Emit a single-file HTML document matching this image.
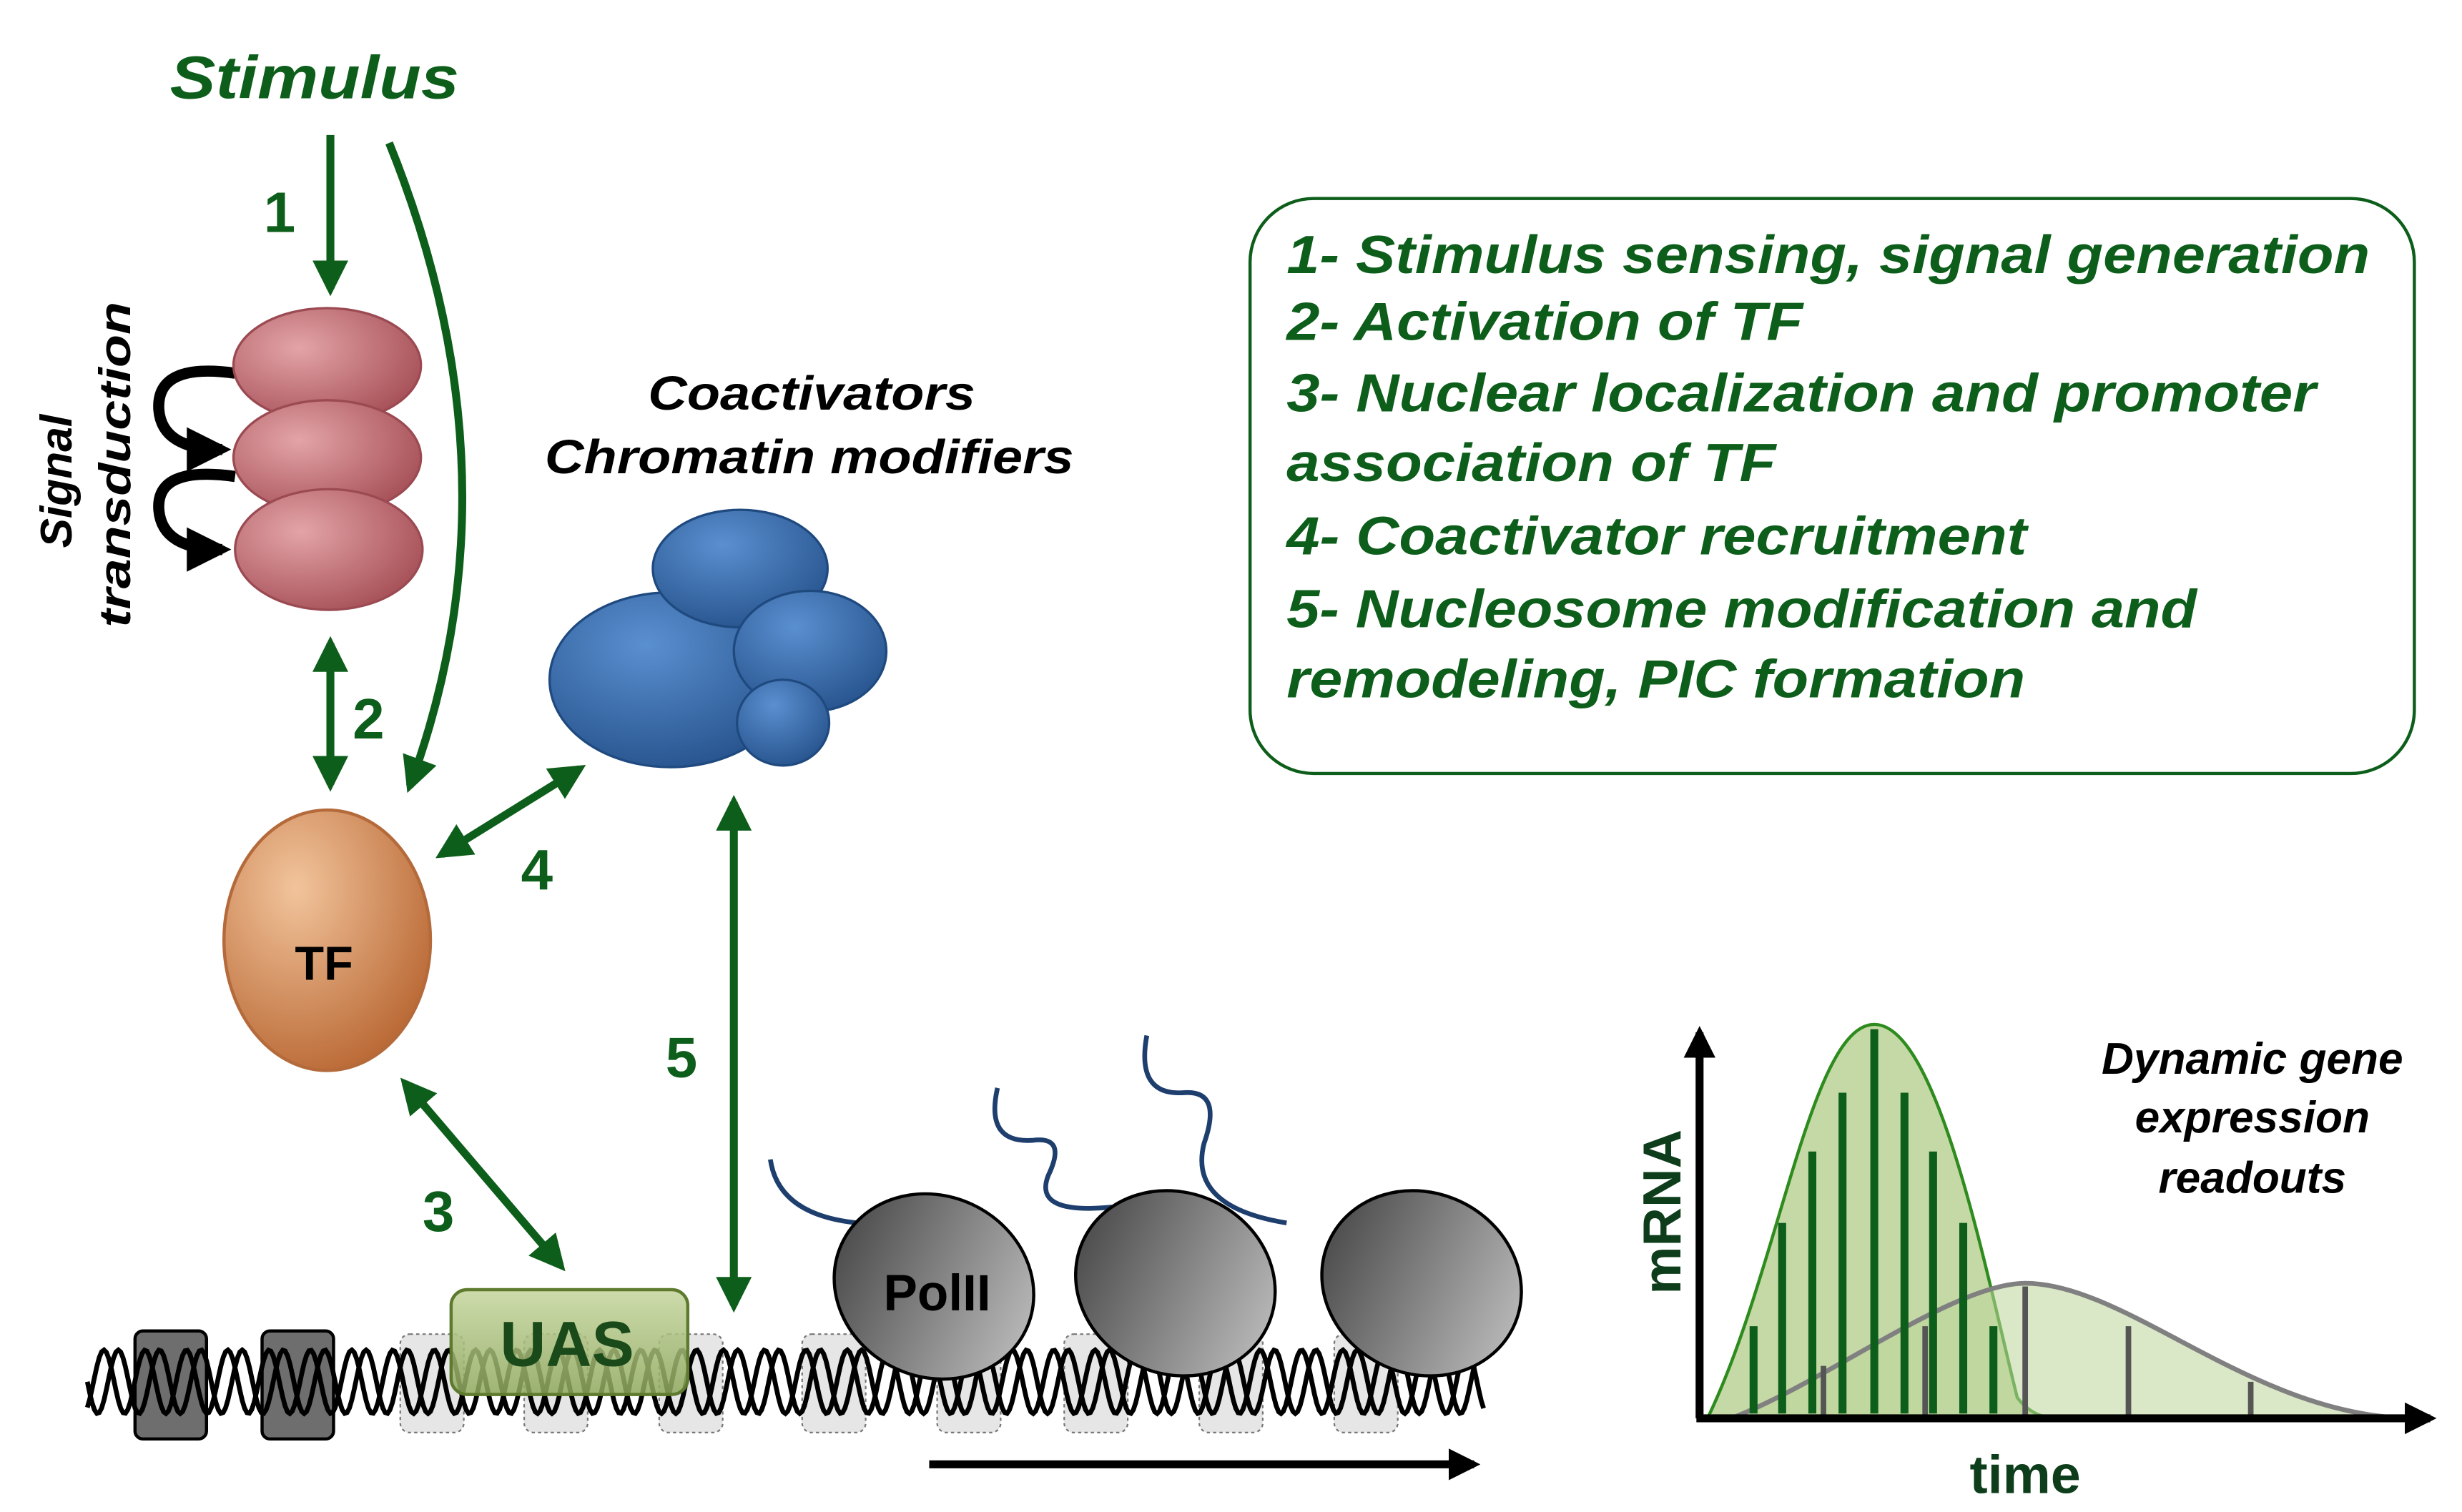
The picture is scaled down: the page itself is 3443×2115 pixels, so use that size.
<!DOCTYPE html>
<html><head><meta charset="utf-8"><style>
html,body{margin:0;padding:0;background:#fff;}
svg{display:block;}
text{font-family:"Liberation Sans",sans-serif;font-weight:bold;}
</style></head><body>
<svg width="3443" height="2115" viewBox="0 0 1550 952" preserveAspectRatio="none" xmlns="http://www.w3.org/2000/svg">
<defs>
<marker id="ag" viewBox="0 0 10 10" refX="8" refY="5" markerWidth="4.5" markerHeight="4.5" orient="auto-start-reverse"><path d="M0,0L10,5L0,10z" fill="#0d5e1a"/></marker>
<marker id="ak" viewBox="0 0 10 10" refX="8" refY="5" markerWidth="4" markerHeight="4" orient="auto"><path d="M0,0L10,5L0,10z" fill="#000"/></marker>
<radialGradient id="pink" cx="0.35" cy="0.35" r="0.8"><stop offset="0" stop-color="#e3a4a7"/><stop offset="1" stop-color="#a0474f"/></radialGradient>
<radialGradient id="orng" cx="0.35" cy="0.3" r="0.8"><stop offset="0" stop-color="#f2c49c"/><stop offset="1" stop-color="#b6632e"/></radialGradient>
<radialGradient id="blue" cx="0.4" cy="0.3" r="0.8"><stop offset="0" stop-color="#5a8fd0"/><stop offset="1" stop-color="#234f88"/></radialGradient>
<linearGradient id="gray" x1="0" y1="0" x2="1" y2="0"><stop offset="0" stop-color="#4f4f4f"/><stop offset="1" stop-color="#b5b5b5"/></linearGradient>
<linearGradient id="uas" x1="0" y1="0" x2="0" y2="1"><stop offset="0" stop-color="#c4d59c"/><stop offset="1" stop-color="#8ea85c"/></linearGradient>
</defs>

<text x="107" y="62" font-size="38" font-style="italic" fill="#0d5e1a" textLength="182" lengthAdjust="spacingAndGlyphs">Stimulus</text>

<line x1="208" y1="85" x2="208" y2="182" stroke="#0d5e1a" stroke-width="5" marker-end="url(#ag)"/>
<text x="166" y="146" font-size="36" fill="#0d5e1a">1</text>
<path d="M245,90 Q330,300 258,495" fill="none" stroke="#0d5e1a" stroke-width="5" marker-end="url(#ag)"/>

<text transform="translate(45,345) rotate(-90)" font-size="28" font-style="italic" fill="#000">Signal</text>
<text transform="translate(82,395) rotate(-90)" font-size="28" font-style="italic" fill="#000" textLength="205" lengthAdjust="spacingAndGlyphs">transduction</text>
<path d="M148,235 Q98,228 100,258 Q102,283 140,283" fill="none" stroke="#000" stroke-width="7" marker-end="url(#ak)"/>
<path d="M148,300 Q98,293 100,321 Q102,346 140,346" fill="none" stroke="#000" stroke-width="7" marker-end="url(#ak)"/>
<ellipse cx="206" cy="230" rx="59" ry="36" fill="url(#pink)" stroke="#9b4a52" stroke-width="1.5"/>
<ellipse cx="206" cy="288" rx="59" ry="36" fill="url(#pink)" stroke="#9b4a52" stroke-width="1.5"/>
<ellipse cx="207" cy="346" rx="59" ry="38" fill="url(#pink)" stroke="#9b4a52" stroke-width="1.5"/>

<line x1="208" y1="405" x2="208" y2="494" stroke="#0d5e1a" stroke-width="5" marker-start="url(#ag)" marker-end="url(#ag)"/>
<text x="222" y="465" font-size="36" fill="#0d5e1a">2</text>

<ellipse cx="206" cy="592" rx="65" ry="82" fill="url(#orng)" stroke="#b46a3a" stroke-width="2"/>
<text x="204" y="617" font-size="30" fill="#000" text-anchor="middle">TF</text>

<line x1="278" y1="538" x2="365" y2="484" stroke="#0d5e1a" stroke-width="5" marker-start="url(#ag)" marker-end="url(#ag)"/>
<text x="328" y="560" font-size="36" fill="#0d5e1a">4</text>

<text x="408" y="258" font-size="30" font-style="italic" fill="#000" textLength="206" lengthAdjust="spacingAndGlyphs">Coactivators</text>
<text x="343" y="298" font-size="30" font-style="italic" fill="#000" textLength="333" lengthAdjust="spacingAndGlyphs">Chromatin modifiers</text>
<ellipse cx="422" cy="428" rx="76" ry="55" fill="url(#blue)" stroke="#1f4a80" stroke-width="1.5"/>
<ellipse cx="466" cy="358" rx="55" ry="37" fill="url(#blue)" stroke="#1f4a80" stroke-width="1.5"/>
<ellipse cx="510" cy="410" rx="48" ry="38" fill="url(#blue)" stroke="#1f4a80" stroke-width="1.5"/>
<ellipse cx="493" cy="455" rx="29" ry="27" fill="url(#blue)" stroke="#1f4a80" stroke-width="1.5"/>

<line x1="462" y1="505" x2="462" y2="822" stroke="#0d5e1a" stroke-width="5" marker-start="url(#ag)" marker-end="url(#ag)"/>
<text x="419" y="678" font-size="36" fill="#0d5e1a">5</text>

<line x1="255" y1="682" x2="353" y2="797" stroke="#0d5e1a" stroke-width="5" marker-start="url(#ag)" marker-end="url(#ag)"/>
<text x="266" y="775" font-size="36" fill="#0d5e1a">3</text>

<path d="M485,730 Q490,765 540,770" fill="none" stroke="#1e3f6e" stroke-width="3"/>
<path d="M628,685 Q620,720 650,718 Q672,715 660,740 Q650,765 700,760" fill="none" stroke="#1e3f6e" stroke-width="3"/>
<path d="M722,652 Q715,690 745,688 Q770,686 758,720 Q748,760 810,770" fill="none" stroke="#1e3f6e" stroke-width="3"/>

<g fill="#e6e6e6" stroke="#777" stroke-dasharray="2,2" stroke-width="1">
<rect x="252" y="840" width="40" height="62" rx="6"/><rect x="330" y="840" width="40" height="62" rx="6"/>
<rect x="415" y="840" width="40" height="62" rx="6"/><rect x="505" y="840" width="40" height="62" rx="6"/>
<rect x="590" y="840" width="40" height="62" rx="6"/><rect x="670" y="840" width="40" height="62" rx="6"/>
<rect x="755" y="840" width="40" height="62" rx="6"/><rect x="840" y="840" width="40" height="62" rx="6"/>
</g>
<rect x="85" y="838" width="45" height="68" rx="5" fill="#6e6e6e" stroke="#000" stroke-width="2"/>
<rect x="165" y="838" width="45" height="68" rx="5" fill="#6e6e6e" stroke="#000" stroke-width="2"/>

<path id="h1" fill="none" stroke="#000" stroke-width="3"/>
<path id="h2" fill="none" stroke="#000" stroke-width="3"/>

<rect x="284" y="812" width="149" height="66" rx="10" fill="url(#uas)" fill-opacity="0.85" stroke="#5d7a2e" stroke-width="2"/>
<text x="357" y="860" font-size="40" fill="#1a4a1a" text-anchor="middle">UAS</text>

<ellipse cx="588" cy="810" rx="64" ry="57" transform="rotate(25 588 810)" fill="url(#gray)" stroke="#000" stroke-width="2"/>
<ellipse cx="740" cy="808" rx="64" ry="57" transform="rotate(25 740 808)" fill="url(#gray)" stroke="#000" stroke-width="2"/>
<ellipse cx="895" cy="808" rx="64" ry="57" transform="rotate(25 895 808)" fill="url(#gray)" stroke="#000" stroke-width="2"/>
<text x="590" y="825" font-size="32" fill="#000" text-anchor="middle">PolII</text>

<line x1="585" y1="922" x2="928" y2="922" stroke="#000" stroke-width="5" marker-end="url(#ak)"/>

<rect x="787" y="125" width="733" height="362" rx="40" fill="#fff" stroke="#0d5e1a" stroke-width="2"/>
<g font-size="34" font-style="italic" fill="#0d5e1a">
<text x="810" y="172" textLength="682" lengthAdjust="spacingAndGlyphs">1- Stimulus sensing, signal generation</text>
<text x="810" y="214" textLength="325" lengthAdjust="spacingAndGlyphs">2- Activation of TF</text>
<text x="810" y="259" textLength="648" lengthAdjust="spacingAndGlyphs">3- Nuclear localization and promoter</text>
<text x="810" y="303" textLength="308" lengthAdjust="spacingAndGlyphs">association of TF</text>
<text x="810" y="349" textLength="466" lengthAdjust="spacingAndGlyphs">4- Coactivator recruitment</text>
<text x="810" y="395" textLength="573" lengthAdjust="spacingAndGlyphs">5- Nucleosome modification and</text>
<text x="810" y="439" textLength="465" lengthAdjust="spacingAndGlyphs">remodeling, PIC formation</text>
</g>

<path d="M1075,893 C1120,800 1140,645 1180,645 C1220,645 1250,800 1270,880 Q1280,893 1295,893 Z" fill="#9fc06a" fill-opacity="0.6" stroke="#2e8b1e" stroke-width="2"/>
<path d="M1090,893 C1150,870 1230,808 1275,808 C1340,808 1420,893 1520,893 Z" fill="#bcd59a" fill-opacity="0.55" stroke="#808080" stroke-width="3"/>
<g stroke="#0d5e1a" stroke-width="5">
<line x1="1104" y1="835" x2="1104" y2="890"/><line x1="1122" y1="770" x2="1122" y2="890"/>
<line x1="1141" y1="725" x2="1141" y2="890"/><line x1="1160" y1="688" x2="1160" y2="890"/>
<line x1="1180" y1="648" x2="1180" y2="890"/><line x1="1199" y1="688" x2="1199" y2="890"/>
<line x1="1217" y1="725" x2="1217" y2="890"/><line x1="1236" y1="770" x2="1236" y2="890"/>
<line x1="1255" y1="835" x2="1255" y2="890"/>
</g>
<g stroke="#555" stroke-width="3.5">
<line x1="1148" y1="860" x2="1148" y2="893"/><line x1="1212" y1="835" x2="1212" y2="893"/>
<line x1="1275" y1="810" x2="1275" y2="893"/><line x1="1340" y1="835" x2="1340" y2="893"/>
<line x1="1417" y1="870" x2="1417" y2="893"/>
</g>
<line x1="1070" y1="893" x2="1070" y2="650" stroke="#000" stroke-width="5" marker-end="url(#ak)"/>
<line x1="1068" y1="893" x2="1530" y2="893" stroke="#000" stroke-width="5" marker-end="url(#ak)"/>
<text transform="translate(1058,815) rotate(-90)" font-size="34" fill="#0d3d1a">mRNA</text>
<text x="1275" y="940" font-size="34" fill="#0d3d1a" text-anchor="middle">time</text>
<g font-size="28" font-style="italic" fill="#000" text-anchor="middle">
<text x="1418" y="676">Dynamic gene</text>
<text x="1418" y="713">expression</text>
<text x="1418" y="751">readouts</text>
</g>
</svg>
<script>
function helix(phase){var d="";for(var x=55;x<=935;x+=1.5){var y=870+20*Math.sin((x-55)/26*2*Math.PI+phase);d+=(x==55?"M":"L")+x+","+y.toFixed(1);}return d;}
document.getElementById("h1").setAttribute("d",helix(0));
document.getElementById("h2").setAttribute("d",helix(2.2));
</script>
</body></html>
